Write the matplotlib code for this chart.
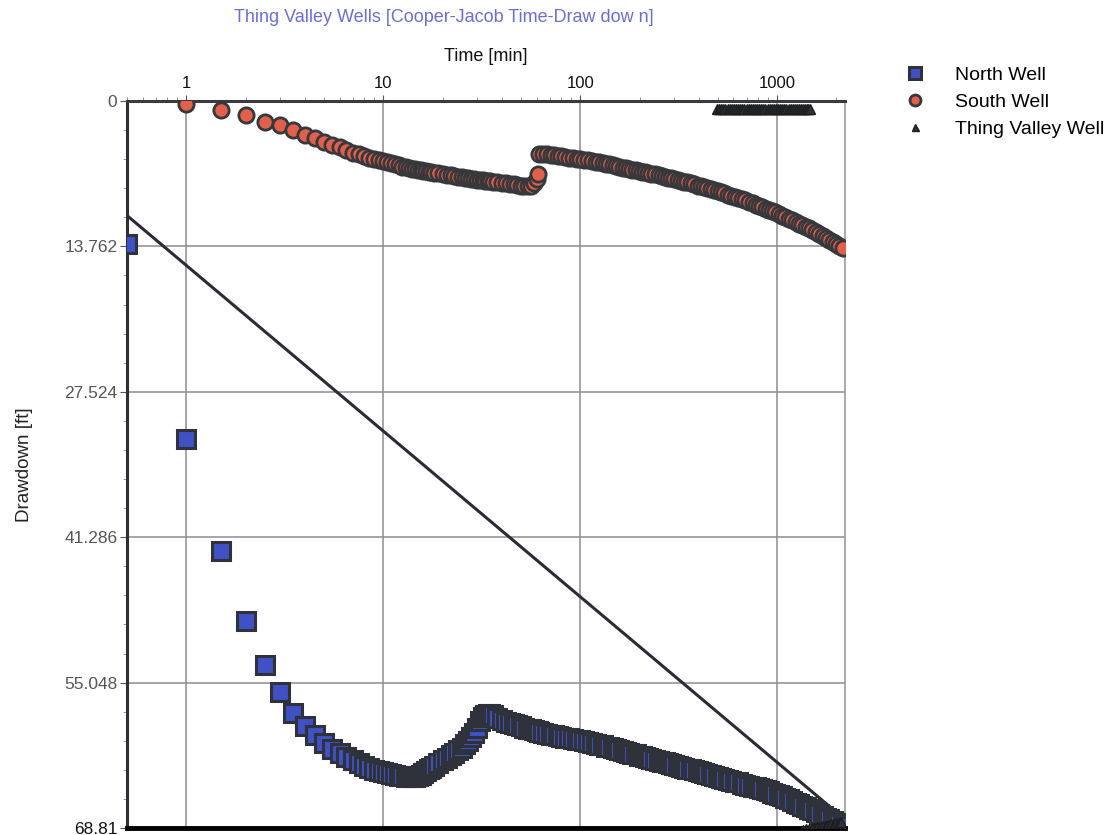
import numpy as np
import matplotlib
matplotlib.use("Agg")
import matplotlib.pyplot as plt
from matplotlib.ticker import FixedLocator, NullFormatter, AutoMinorLocator, LogLocator

plt.rcParams['font.family'] = ['Liberation Sans', 'DejaVu Sans']

# ---- data -------------------------------------------------------------
title = "Thing Valley Wells [Cooper-Jacob Time-Draw dow n]"
x_label = "Time [min]"
y_label = "Drawdown [ft]"

x_ticks = [1, 10, 100, 1000]
x_tick_labels = ["1", "10", "100", "1000"]
y_ticks = [0, 13.762, 27.524, 41.286, 55.048, 68.81]
y_tick_labels = ["0", "13.762", "27.524", "41.286", "55.048", "68.81"]
x_limits = [0.5, 2210]

# elapsed time since pumping started [min], shared by both observation wells
time_min = [
    0.5, 1, 1.5, 2, 2.5, 3, 3.5, 4, 4.5, 5, 5.5, 6, 6.5, 7, 7.5, 8, 8.5, 9, 9.5, 10,
    10.5, 11, 11.5, 12, 12.5, 13, 13.5, 14, 14.5, 15, 15.5, 16, 16.5, 17, 17.5, 18,
    19, 20, 21, 22, 23, 24, 25, 26, 27, 28, 29, 30, 31, 32, 33, 34, 35, 36,
    38, 40, 42, 44, 46, 48, 50, 52, 54, 56, 58, 60, 61, 62,
    65, 68, 71, 74, 77, 80, 84, 88, 92, 96, 100, 105, 110, 115, 120, 125, 130, 135,
    140, 146, 152, 158, 164, 170, 177, 184, 191, 198, 205, 213, 221, 230, 240, 250,
    260, 270, 280, 290, 300, 312, 325, 338, 350, 365, 380, 395, 410, 425, 440, 460,
    480, 500, 520, 540, 560, 585, 610, 635, 660, 690, 720, 750, 780, 810, 840, 875,
    910, 945, 980, 1020, 1060, 1100, 1145, 1190, 1240, 1290, 1340, 1395, 1450, 1510,
    1570, 1630, 1700, 1770, 1840, 1910, 1990, 2070, 2160,
]

north_well = [
    13.5, 32.0, 42.6, 49.2, 53.4, 55.9, 57.9, 59.2, 60.0, 60.8, 61.3, 61.7, 62.1, 62.4,
    62.7, 62.9, 63.1, 63.3, 63.4, 63.5,
    63.6, 63.7, 63.8, 63.85, 63.9, 63.95, 64.0, 64.0, 64.0, 63.9, 63.8, 63.6, 63.4,
    63.2, 63.1, 62.9,
    62.7, 62.4, 62.2, 61.9, 61.7, 61.4, 61.2, 60.9, 60.6, 60.2, 59.8, 59.3, 58.7, 58.3,
    58.1, 58.0, 58.0, 58.1,
    58.4, 58.6, 58.8, 58.9, 59.0, 59.1, 59.2, 59.3, 59.4, 59.45, 59.5, 59.6, 59.65, 59.7,
    59.8, 59.9, 60.0, 60.05, 60.1, 60.2, 60.25, 60.3, 60.4, 60.45, 60.5, 60.6, 60.7,
    60.8, 60.85, 60.95, 61.0, 61.1,
    61.15, 61.25, 61.35, 61.45, 61.5, 61.6, 61.7, 61.8, 61.85, 61.95, 62.0, 62.1, 62.2,
    62.25, 62.35, 62.45,
    62.55, 62.6, 62.7, 62.75, 62.85, 62.9, 63.0, 63.1, 63.2, 63.25, 63.35, 63.45, 63.55,
    63.6, 63.7, 63.8,
    63.9, 64.0, 64.1, 64.2, 64.3, 64.35, 64.45, 64.5, 64.6, 64.7, 64.8, 64.9, 64.95,
    65.05, 65.15, 65.25,
    65.35, 65.45, 65.55, 65.65, 65.8, 65.95, 66.1, 66.25, 66.4, 66.55, 66.7, 66.85,
    67.0, 67.15,
    67.3, 67.45, 67.65, 67.85, 68.0, 68.15, 68.3, 68.45, 68.6,
]

south_well = [
    np.nan, 0.3, 0.85, 1.3, 2.0, 2.3, 2.7, 3.2, 3.5, 3.9, 4.15, 4.4, 4.65, 4.9, 5.05,
    5.2, 5.35, 5.5, 5.6, 5.7,
    5.8, 5.9, 6.0, 6.1, 6.2, 6.25, 6.3, 6.4, 6.45, 6.5, 6.55, 6.6, 6.65, 6.7, 6.75, 6.8,
    6.85, 6.9, 7.0, 7.05, 7.1, 7.15, 7.2, 7.25, 7.3, 7.35, 7.4, 7.45, 7.5, 7.5, 7.55,
    7.6, 7.6, 7.65,
    7.7, 7.75, 7.8, 7.85, 7.9, 7.95, 8.0, 8.0, 8.05, 8.0, 7.8, 7.4, 6.9, 5.0,
    5.0, 5.05, 5.1, 5.15, 5.2, 5.25, 5.3, 5.35, 5.4, 5.45, 5.5, 5.55, 5.6, 5.7, 5.75,
    5.8, 5.9, 5.95,
    6.0, 6.1, 6.15, 6.2, 6.3, 6.35, 6.4, 6.5, 6.55, 6.6, 6.7, 6.75, 6.8, 6.9, 6.95, 7.05,
    7.1, 7.2, 7.25, 7.3, 7.4, 7.5, 7.55, 7.65, 7.7, 7.8, 7.9, 8.0, 8.05, 8.15, 8.25, 8.35,
    8.45, 8.55, 8.65, 8.75, 8.85, 8.95, 9.05, 9.15, 9.3, 9.4, 9.55, 9.65, 9.8, 9.9,
    10.05, 10.2,
    10.3, 10.45, 10.55, 10.7, 10.85, 11.0, 11.15, 11.3, 11.45, 11.6, 11.75, 11.9,
    12.05, 12.2,
    12.4, 12.55, 12.75, 12.95, 13.15, 13.35, 13.55, 13.75, 13.95,
]

# pumping well record
tv_time = [495, 507, 520, 533, 546, 560, 574, 588, 603, 618, 633, 649, 665, 682, 699,
           716, 734, 752, 771, 790, 810, 830, 851, 872, 894, 916, 939, 962, 986, 1011,
           1036, 1062, 1088, 1115, 1143, 1171, 1200, 1230, 1260, 1290, 1320, 1350,
           1380, 1410, 1440, 1470,
           1350, 1400, 1450, 1500, 1550, 1600, 1650, 1700, 1760, 1820, 1880, 1940,
           2000, 2060, 2110]
tv_drawdown = [0.75, 0.75, 0.75, 0.75, 0.75, 0.75, 0.75, 0.75, 0.75, 0.75, 0.75, 0.75,
               0.75, 0.75, 0.75, 0.75, 0.75, 0.75, 0.75, 0.75, 0.75, 0.75, 0.75, 0.75,
               0.75, 0.75, 0.75, 0.75, 0.75, 0.75, 0.75, 0.75, 0.75, 0.75, 0.75, 0.75,
               0.75, 0.75, 0.75, 0.75, 0.75, 0.75, 0.75, 0.75, 0.75, 0.75,
               69.0, 68.95, 68.9, 68.85, 68.8, 68.75, 68.7, 68.65, 68.6, 68.5, 68.45,
               68.4, 68.35, 68.3, 68.25]

# Cooper-Jacob straight-line fit (end points)
fit_time = [0.5, 2210]
fit_drawdown = [10.84, 68.0]

# ---- figure -----------------------------------------------------------
fig = plt.figure(figsize=(11.15, 8.35), dpi=100)
ax = fig.add_axes([127 / 1115, 1 - 828 / 835, (845 - 127) / 1115, (828 - 101) / 835])

ax.set_xscale('log')
ax.set_xlim(*x_limits)
ax.set_ylim(y_ticks[-1], y_ticks[0])

ax.plot(fit_time, fit_drawdown, color='#2b2b36', lw=2.2, zorder=3)

north, = ax.plot(time_min, north_well, linestyle='none', marker='s', markersize=12.5,
                 markerfacecolor='#3f51c4', markeredgecolor='#2f323b',
                 markeredgewidth=2.2, zorder=4, label='North Well')
south, = ax.plot(time_min, south_well, linestyle='none', marker='o', markersize=11,
                 markerfacecolor='#e0604b', markeredgecolor='#36383c',
                 markeredgewidth=2.0, zorder=5, label='South Well')
tv, = ax.plot(tv_time, tv_drawdown, linestyle='none', marker='^', markersize=7,
              markerfacecolor='#2e3236', markeredgecolor='#1c1e20',
              markeredgewidth=1.0, zorder=6, label='Thing Valley Well')

# axes, ticks and grid
ax.xaxis.tick_top()
ax.xaxis.set_label_position('top')
ax.xaxis.set_major_locator(FixedLocator(x_ticks))
ax.set_xticklabels(x_tick_labels)
ax.xaxis.set_minor_locator(LogLocator(base=10, subs=np.arange(2, 10)))
ax.xaxis.set_minor_formatter(NullFormatter())
ax.set_yticks(y_ticks)
ax.set_yticklabels(y_tick_labels)
ax.yaxis.set_minor_locator(AutoMinorLocator(5))

ax.tick_params(axis='x', which='major', length=4, color='#555555', labelsize=12,
               labelcolor='#111111', pad=3)
ax.tick_params(axis='x', which='minor', length=3, color='#777777')
ax.tick_params(axis='y', which='major', length=5, color='#555555', labelsize=12.5,
               labelcolor='#555555', pad=2)
ax.tick_params(axis='y', which='minor', length=3, color='#888888')
ax.get_yticklabels()[-1].set_color('#111111')

ax.grid(True, which='major', color='#8c8c92', lw=1.1, zorder=1)

for side, (c, w) in {'left': ('#2e2e34', 2.2), 'top': ('#3a3a40', 2.2),
                     'bottom': ('#000000', 3.5), 'right': ('#9a9a9a', 1.2)}.items():
    ax.spines[side].set_color(c)
    ax.spines[side].set_linewidth(w)

ax.set_xlabel(x_label, fontsize=13, color='#111111', labelpad=11)
ax.set_ylabel(y_label, fontsize=13.5, color='#222222', labelpad=22)

fig.text(444 / 1115, 1 - 17 / 835, title, ha='center', va='center', fontsize=13,
         color='#6a6ed4')

fig.legend(handles=[north, south, tv], loc='upper left',
           bbox_to_anchor=(905 / 1115, 1 - 66 / 835), frameon=False, fontsize=14,
           markerscale=0.72, handlelength=1.0, handletextpad=1.55, labelspacing=0.48,
           borderpad=0, borderaxespad=0)

fig.savefig('out.png', dpi=100)
